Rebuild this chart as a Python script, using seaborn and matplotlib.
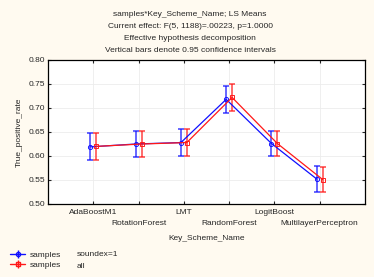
import numpy as np
import pandas as pd
import matplotlib
matplotlib.use("Agg")
import matplotlib.pyplot as plt
import seaborn as sns

# LS means
schemes = ["AdaBoostM1", "RotationForest", "LMT", "RandomForest", "LogitBoost", "MultilayerPerceptron"]
soundex_mean = [0.619, 0.625, 0.628, 0.718, 0.626, 0.552]
soundex_ci = [0.028, 0.028, 0.028, 0.028, 0.027, 0.027]
all_mean = [0.620, 0.625, 0.628, 0.722, 0.626, 0.551]
all_ci = [0.028, 0.028, 0.028, 0.028, 0.027, 0.027]
groups = ["soundex=1", "all"]

df = pd.DataFrame({
    "Key_Scheme_Name": schemes * 2,
    "samples": [groups[0]] * 6 + [groups[1]] * 6,
    "True_positive_rate": soundex_mean + all_mean,
    "ci": soundex_ci + all_ci,
})

sns.set_style("white")
plt.rcParams["font.family"] = ["Liberation Sans", "DejaVu Sans"]

bg = "#fffaf0"
fig = plt.figure(figsize=(3.74, 2.77), dpi=100, facecolor=bg)
ax = fig.add_axes([48 / 374, 1 - 204 / 277, 317 / 374, 144 / 277])
ax.set_facecolor("white")

palette = {"soundex=1": "#1010ff", "all": "#ff1818"}
markers = ["o", "s"]
off = 0.065
sns.pointplot(data=df, x="Key_Scheme_Name", y="True_positive_rate", hue="samples",
              palette=palette, markers=markers, linestyles=["-", "-"], dodge=2 * off,
              errorbar=None, markersize=3, linewidth=0.9, legend=False, ax=ax,
              markerfacecolor="none")

handles = []
for i, g in enumerate(groups):
    sub = df[df["samples"] == g]
    xs = np.arange(len(schemes)) + (-off if i == 0 else off)
    ax.errorbar(xs, sub["True_positive_rate"], yerr=sub["ci"], fmt="none",
                ecolor=palette[g], alpha=0.75, elinewidth=1.2, capsize=2.5,
                capthick=1.2, zorder=1)
    h = ax.errorbar([], [], yerr=[], fmt=markers[i] + "-", color=palette[g],
                    ms=3, mfc="none", lw=1.0, capsize=4)
    handles.append(h)

ax.set_xlim(-1, 6)
ax.set_ylim(0.50, 0.80)
ax.set_yticks(np.arange(0.50, 0.801, 0.05))
ax.set_yticklabels([f"{v:.2f}" for v in np.arange(0.50, 0.801, 0.05)], fontsize=6)
ax.set_xticks(range(len(schemes)))
ax.set_xticklabels(["" for _ in schemes])
for i, s in enumerate(schemes):
    ax.text(i, -0.06 if i % 2 == 0 else -0.135, s, transform=ax.get_xaxis_transform(),
            ha="center", va="center", fontsize=6)
ax.grid(True, color="#ececec", linewidth=0.6)
ax.tick_params(direction="in", length=2.5, width=0.8, top=True, right=True,
               bottom=True, left=True, labelsize=6, pad=2)
for sp in ax.spines.values():
    sp.set_color("black")
    sp.set_linewidth(0.9)

ax.set_xlabel("Key_Scheme_Name", fontsize=6, labelpad=20)
ax.set_ylabel("True_positive_rate", fontsize=6, labelpad=4)

titles = ["samples*Key_Scheme_Name; LS Means",
          "Current effect: F(5, 1188)=.00223, p=1.0000",
          "Effective hypothesis decomposition",
          "Vertical bars denote 0.95 confidence intervals"]
for k, t in enumerate(titles):
    fig.text(190 / 374, 1 - (14 + 12 * k) / 277, t, ha="center", va="center", fontsize=6)

fig.legend(handles, ["samples", "samples"], loc="upper left",
           bbox_to_anchor=(6 / 374, 1 - 247 / 277), frameon=False, fontsize=6,
           handlelength=1.8, handletextpad=0.5, labelspacing=0.25, borderpad=0)
fig.text(77 / 374, 1 - 254 / 277, groups[0], fontsize=6, va="center")
fig.text(77 / 374, 1 - 266 / 277, groups[1], fontsize=6, va="center")

fig.savefig("out.png", dpi=100, facecolor=bg)
